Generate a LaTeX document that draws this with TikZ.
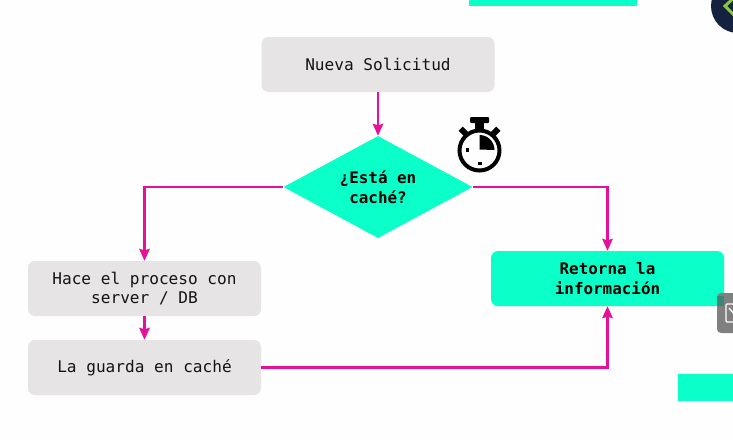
\documentclass[tikz,border=0pt]{standalone}
\usepackage{fontspec}
\setmonofont{DejaVu Sans Mono}
\usetikzlibrary{arrows.meta,shapes.geometric,calc}
\definecolor{teal1}{HTML}{0BFFC8}
\definecolor{boxgray}{HTML}{E6E4E5}
\definecolor{pinkl}{HTML}{E5119B}
\definecolor{navy1}{HTML}{14213F}
\definecolor{green1}{HTML}{8CC63F}
\definecolor{tabgray}{HTML}{808080}
\tikzset{
  greybox/.style={draw=none,fill=boxgray,rounded corners=7pt,minimum width=233pt,minimum height=55pt,inner sep=0pt,align=center,font=\ttfamily\fontsize{16.1}{19.5}\selectfont,text=black!92},
  tealbox/.style={greybox,fill=teal1,text=black,font=\ttfamily\bfseries\fontsize{15.9}{19.5}\selectfont},
  decision/.style={diamond,aspect=1.84,fill=teal1,minimum width=189pt,minimum height=102pt,inner sep=0pt,align=center,text=black,font=\ttfamily\bfseries\fontsize{15.9}{19.5}\selectfont},
  flow/.style={draw=pinkl,line width=2.08pt,-{Stealth[length=12pt,width=10.5pt,inset=1.5pt]}},
  band/.style={fill=teal1,draw=none}
}
\begin{document}
\begin{tikzpicture}[x=1pt,y=-1pt]
\useasboundingbox (0,0) rectangle (733,445);
\fill[white!99.5!black] (0,0) rectangle (733,445);
% decorative bands
\fill[band] (469,0) rectangle (637,6);
\fill[band] (678,374) rectangle (733,401);
% corner badge
\begin{scope}
\clip (0,0) rectangle (733,445);
\fill[navy1] (738,6) circle (27);
\draw[green1,line width=3pt] (736,-4) -- (725,6) -- (736,17);
\end{scope}
% nodes
\node[greybox] (req) at (378,64.5) {Nueva Solicitud};
\node[decision] (dec) at (378,187) {¿Está en\\caché?};
\node[greybox] (proc) at (144.5,288.5) {Hace el proceso con\\server / DB};
\node[greybox] (save) at (144.5,367.5) {La guarda en caché};
\node[tealbox] (ret) at (607.5,278.5) {Retorna la\\información};
% connectors
\draw[flow] (req.south) -- (dec.north);
\draw[flow] (dec.west) -| (proc.north);
\draw[flow] (dec.east) -| (ret.north);
\draw[flow] (proc.south) -- (save.north);
\draw[flow] (save.east) -| (ret.south);
% stopwatch
\coordinate (sw) at (479.5,150.5);
\draw[black,line width=4pt] (sw) circle (20);
\fill[black,rounded corners=1pt] (470,117) rectangle (489,123);
\fill[black] (475,122) rectangle (484,131);
\fill[black,rotate around={-45:(463.5,131.5)}] (459.5,128.5) rectangle (467.5,134.5);
\fill[black,rotate around={45:(495.5,131.5)}] (491.5,128.5) rectangle (499.5,134.5);
\fill[black] ($(sw)+(0,-1)$) -- ($(sw)+(0,-15.5)$) arc[start angle=90,end angle=0,radius=15,y radius=-15] -- cycle;
\fill[black] (465.5,148) rectangle (469,151.5);
\fill[black] (478,161.5) rectangle (481.5,165);
% side tab
\fill[tabgray,rounded corners=4pt] (717,293) rectangle (745,333);
\fill[black!45!teal1,opacity=.55] (717,296) rectangle (724,306);
\draw[white,line width=1.3pt,rounded corners=1pt] (726,304) rectangle (745,322);
\draw[white,line width=1.3pt] (729,308) -- (735,315);
\end{tikzpicture}
\end{document}
